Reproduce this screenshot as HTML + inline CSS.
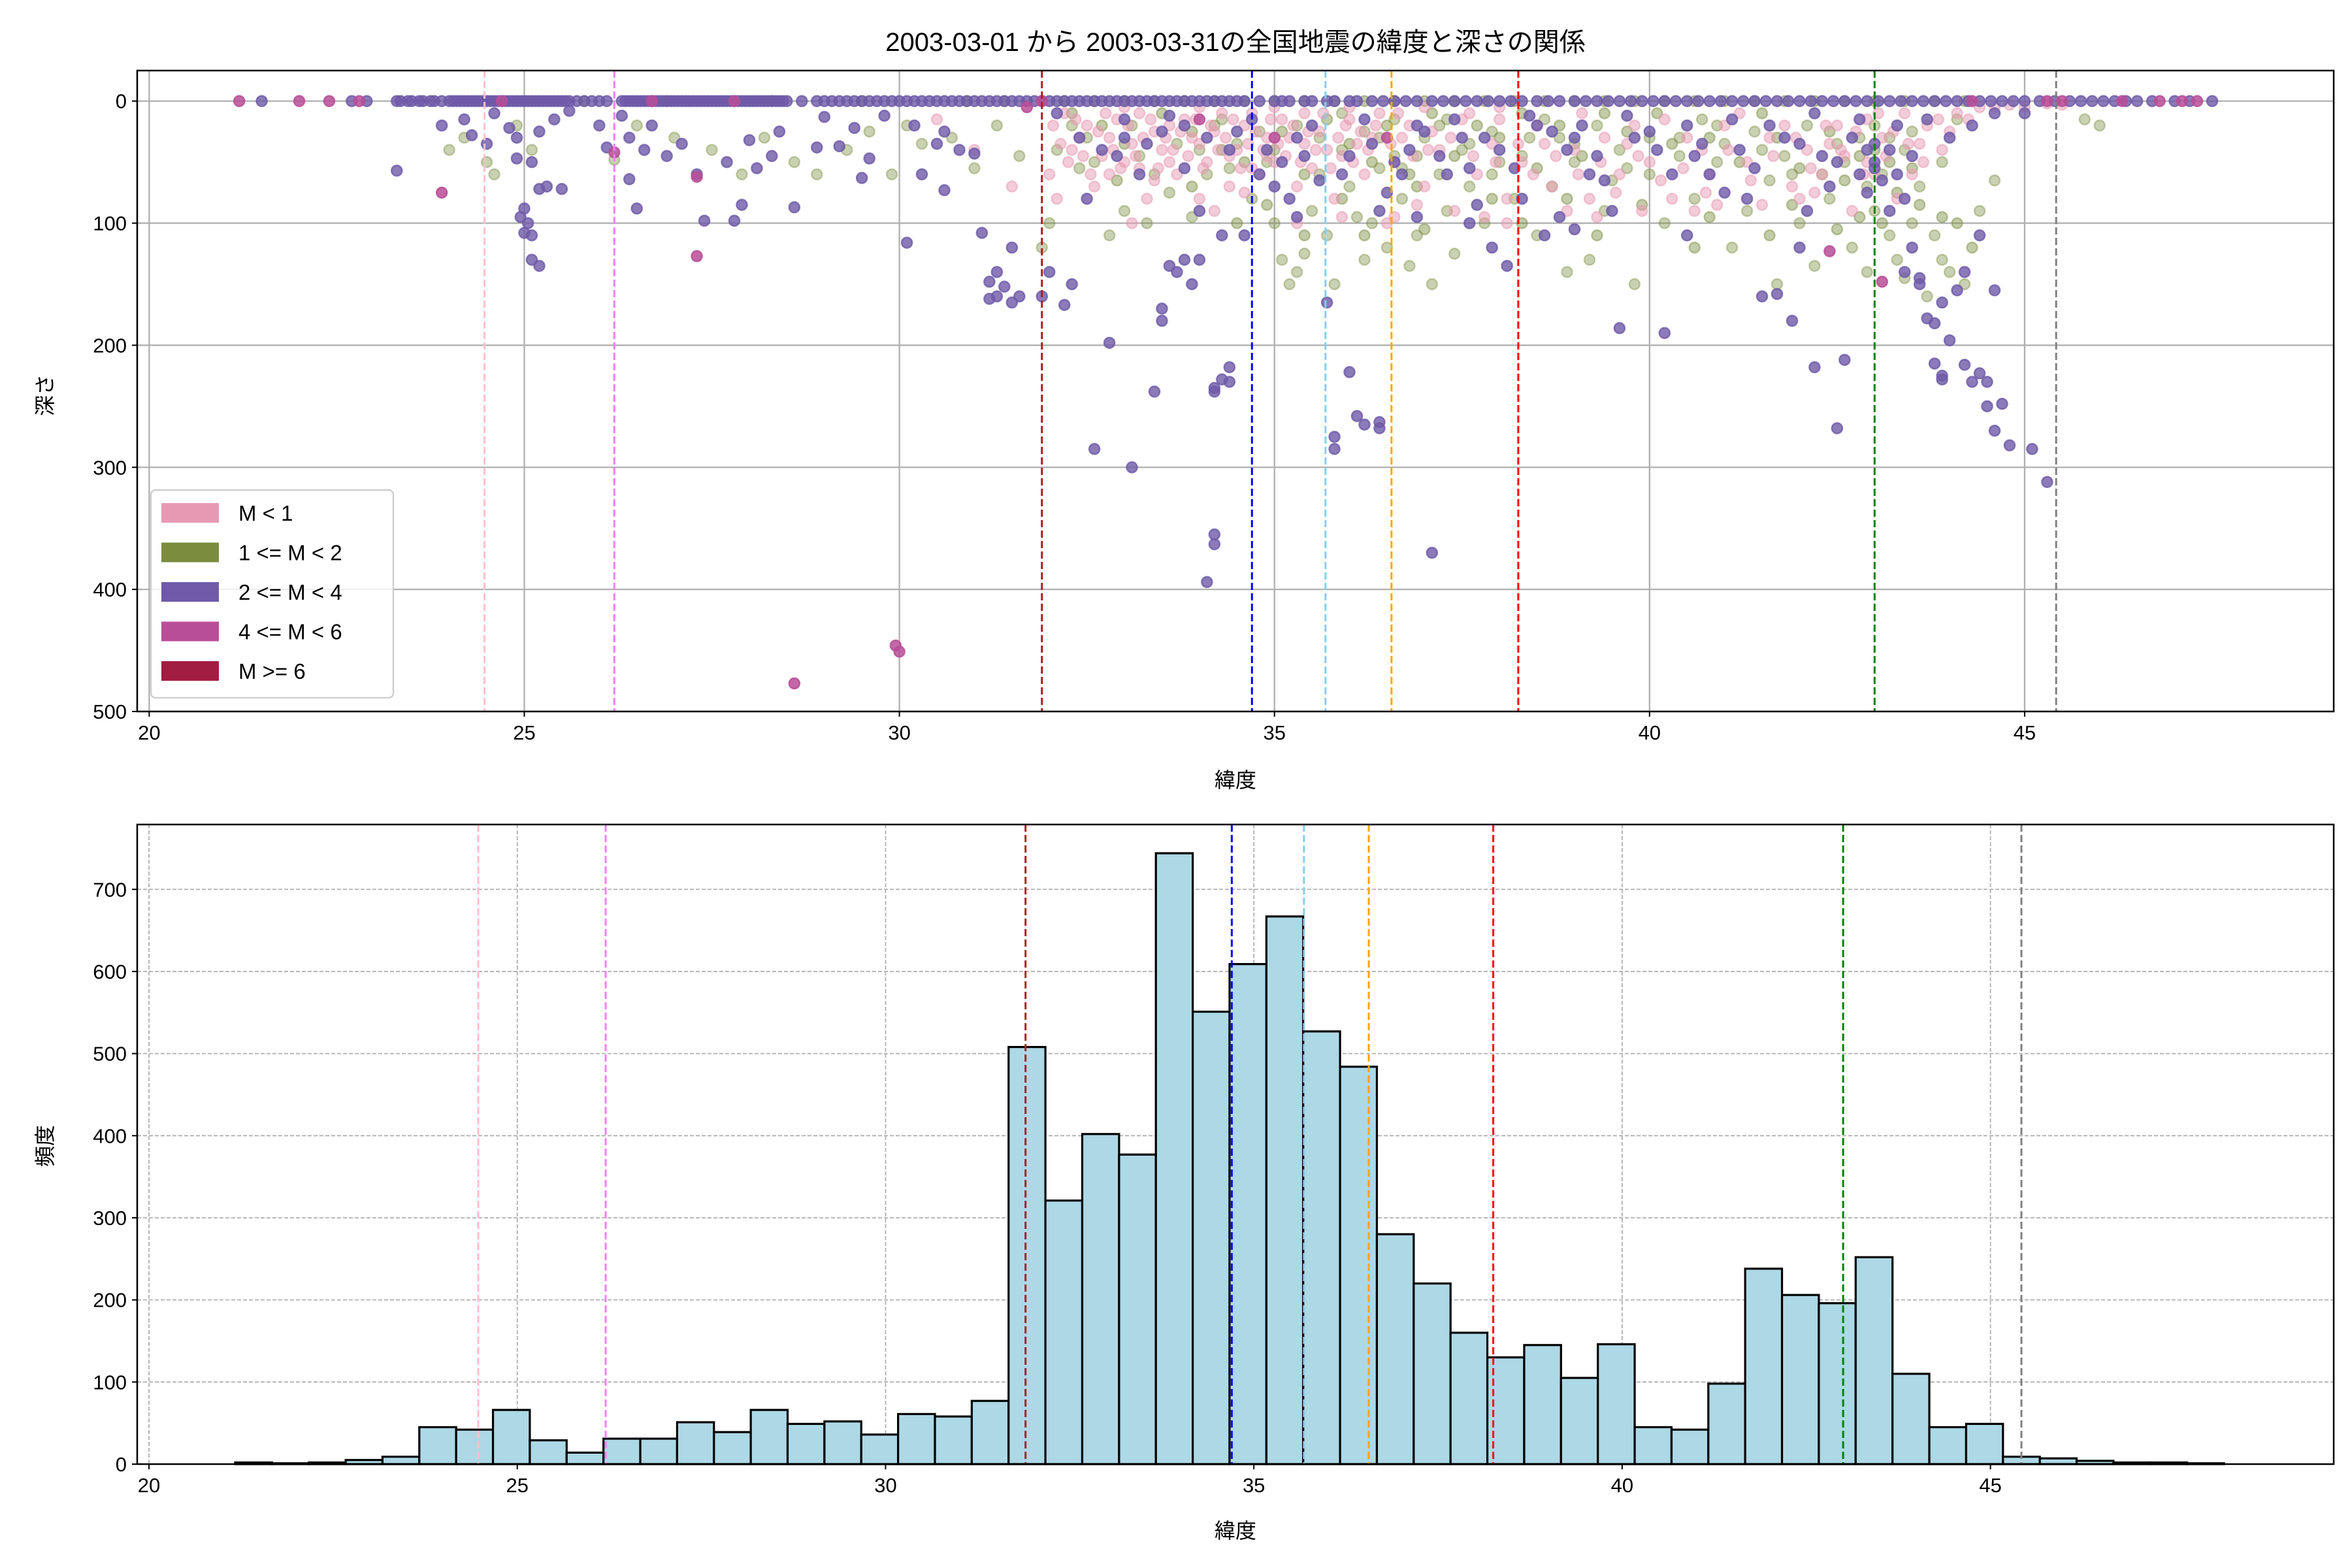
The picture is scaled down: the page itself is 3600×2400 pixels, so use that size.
<!DOCTYPE html>
<html><head><meta charset="utf-8">
<style>
html,body{margin:0;padding:0;background:#fff;}
svg{display:block;font-family:"Liberation Sans","Noto Sans CJK JP",sans-serif;}
</style></head>
<body>
<svg id="chart" width="3600" height="2400" viewBox="0 0 3600 2400" xmlns="http://www.w3.org/2000/svg">
<rect width="3600" height="2400" fill="#fff"/>
<text x="1891" y="78" font-size="40" text-anchor="middle">2003-03-01 から 2003-03-31の全国地震の緯度と深さの関係</text>
<g id="topAxes"></g>
<g id="bottomAxes"></g>
</svg>
<script>
// ===== data =====
const surfaceLatsPurple = [23.3,23.45,23.6,23.75,23.9,24.0,24.1,24.2,24.3,24.4,24.5,24.6,24.7,24.8,24.9,25.0,25.1,25.2,25.3,25.4,25.5,25.6,25.7,25.8,25.9,26.0,26.1,26.3,26.4,26.5,26.6,26.7,26.8,26.9,27.0,27.1,27.2,27.3,27.4,27.5,27.6,27.7,27.8,27.9,28.0,28.1,28.2,28.3,28.4,28.5,28.7,28.9,29.1,29.3,29.5,29.6,29.8,30.0,30.2,30.4,30.6,30.8,31.0,31.2,31.4,31.6,31.8,32.0,32.2,32.4,32.6,32.8,33.0,33.2,33.4,33.6,33.8,34.0,34.2,34.4,34.6,35.0,35.2,35.5,35.8,36.1,36.3,36.6,36.9,37.1,37.4,37.7,38.0,38.3,38.5,38.8,39.0,39.3,39.6,39.9,40.2,40.5,40.8,41.1,41.4,41.7,42.0,42.3,42.6,42.9,43.2,43.5,43.8,44.1,44.4,44.7,45.0,45.2,45.6,45.9,46.2,46.5,47.5,23.35,23.5,23.65,23.8,24.05,24.15,24.25,24.35,24.45,24.55,24.65,24.75,24.85,24.95,25.05,25.15,25.25,25.35,25.45,25.55,26.35,26.45,26.55,26.65,26.75,26.85,26.95,27.05,27.15,27.25,27.35,27.45,27.55,27.65,27.75,27.85,27.95,28.05,28.15,28.25,28.35,28.45,29.0,29.2,29.4,29.7,29.9,30.1,30.3,30.5,30.7,30.9,31.1,31.3,31.5,31.7,31.9,32.1,32.3,32.5,32.7,32.9,33.1,33.3,33.5,33.7,33.9,34.1,34.3,34.5,34.8,35.1,35.4,35.7,36.0,36.45,36.75,37.25,37.55,37.85,38.15,38.65,39.15,39.45,39.75,40.05,40.35,40.65,40.95,41.25,41.55,41.85,42.15,42.45,42.75,43.05,43.35,43.65,43.95,44.25,44.55,44.85,45.4,45.75,46.05,46.35,46.7,47.0,47.2];
const purplePts = [[23.3,57],[23.9,20],[24.2,15],[24.3,28],[24.5,35],[24.6,10],[24.8,22],[24.9,47],[25.0,88],[24.95,95],[25.0,108],[25.1,110],[25.1,130],[25.2,135],[25.05,100],[25.3,70],[25.2,72],[25.5,72],[24.9,30],[25.1,50],[25.2,25],[25.4,15],[25.6,8],[26.0,20],[26.1,38],[26.3,12],[26.4,30],[26.4,64],[26.5,88],[26.6,40],[26.7,20],[26.9,45],[27.1,35],[27.3,60],[27.4,98],[27.7,50],[27.8,98],[27.9,85],[28.0,32],[28.1,55],[28.3,45],[28.4,25],[28.6,87],[28.9,38],[29.0,13],[29.2,37],[29.4,22],[29.5,63],[29.6,47],[29.8,12],[30.2,20],[30.5,35],[30.6,25],[30.3,60],[30.6,73],[30.8,40],[31.0,43],[30.1,116],[31.1,108],[31.2,148],[31.3,160],[31.4,152],[31.5,165],[31.6,160],[31.2,162],[31.3,140],[31.5,120],[31.9,160],[32.2,167],[32.3,150],[32.0,140],[32.4,30],[32.5,80],[32.7,40],[33.0,30],[33.2,60],[32.6,285],[32.8,198],[33.1,300],[33.4,238],[33.5,170],[33.5,180],[33.6,135],[33.7,140],[33.8,130],[33.9,150],[34.0,130],[34.3,110],[34.0,90],[33.8,55],[34.2,235],[34.2,238],[34.3,228],[34.4,218],[34.1,394],[34.2,355],[34.2,363],[34.4,230],[34.6,110],[34.4,40],[34.8,60],[35.0,70],[35.2,80],[35.4,45],[35.6,65],[35.7,165],[35.8,285],[35.8,275],[36.0,222],[36.1,258],[36.2,265],[36.4,268],[36.4,263],[36.5,75],[36.7,60],[36.9,95],[37.1,370],[37.3,60],[37.6,55],[37.7,85],[37.9,120],[38.1,135],[38.3,80],[38.6,110],[38.8,95],[39.0,105],[39.2,60],[39.5,90],[39.6,186],[40.2,190],[40.5,110],[40.8,60],[41.0,75],[41.3,80],[41.5,160],[41.7,158],[41.9,180],[42.0,120],[42.2,218],[42.6,212],[42.5,268],[42.1,90],[42.4,70],[42.8,60],[43.0,50],[43.2,40],[43.3,60],[43.4,140],[43.6,145],[43.7,178],[43.8,182],[43.8,215],[43.9,228],[43.9,225],[44.0,196],[44.2,140],[44.2,216],[44.3,230],[44.4,223],[44.5,230],[44.5,250],[44.6,270],[44.7,248],[44.8,282],[44.6,155],[44.4,110],[44.1,155],[43.9,165],[43.6,150],[43.5,120],[45.1,285],[45.3,312],[43.0,55],[42.9,40],[42.7,30],[41.8,30],[40.5,20],[39.8,30],[39.3,45],[38.0,40],[37.5,30],[36.8,40],[36.0,45],[35.3,30],[34.5,25],[33.8,20],[33.0,15],[45.0,10],[36.3,35],[37.0,25],[38.5,20],[39.0,30],[40.0,25],[41.2,40],[42.3,45],[43.1,65],[33.5,25],[34.9,40]];
const purpleBandPts = [[32.1,10],[32.9,45],[33.3,35],[33.6,12],[34.1,30],[34.7,15],[35.1,50],[35.5,20],[35.9,60],[36.2,15],[36.6,50],[37.2,45],[37.4,15],[37.8,30],[38.2,55],[38.4,12],[38.9,40],[39.1,20],[39.4,65],[39.7,12],[40.1,40],[40.3,60],[40.7,35],[41.1,15],[41.4,55],[41.6,20],[42.0,35],[42.2,10],[42.5,50],[42.8,15],[43.0,35],[43.3,20],[43.5,45],[43.7,15],[44.0,30],[44.3,20],[44.6,10],[36.9,20],[38.7,25],[40.6,45],[42.9,75],[43.2,90],[43.4,80],[36.4,90],[35.3,95],[37.6,100]];
const greenPts = [[24.0,40],[24.2,30],[24.5,50],[24.6,60],[24.9,20],[25.1,40],[26.2,48],[26.5,20],[27.0,30],[27.5,40],[27.9,60],[28.2,30],[28.6,50],[28.9,60],[29.3,40],[29.6,25],[29.9,60],[30.1,20],[30.3,35],[30.7,30],[31.0,55],[31.3,20],[31.6,45],[31.9,120],[32.0,100],[32.3,20],[32.6,50],[32.8,110],[33.0,90],[33.3,100],[33.4,60],[33.6,75],[33.9,95],[34.0,40],[34.2,20],[34.4,55],[34.5,35],[34.7,80],[34.9,50],[35.0,100],[35.1,130],[35.2,150],[35.3,140],[35.4,125],[35.5,90],[35.6,60],[35.7,110],[35.8,150],[35.9,40],[36.0,70],[36.1,95],[36.2,130],[36.3,100],[36.4,55],[36.5,120],[36.6,45],[36.7,80],[36.8,135],[36.9,110],[37.0,30],[37.1,150],[37.2,60],[37.3,90],[37.4,125],[37.5,40],[37.6,70],[37.8,100],[38.0,50],[38.2,80],[38.4,30],[38.5,110],[38.7,70],[38.9,140],[39.0,50],[39.2,130],[39.4,90],[39.6,40],[39.8,150],[40.0,60],[40.2,100],[40.4,30],[40.6,80],[40.9,50],[41.1,120],[41.3,90],[41.5,40],[41.7,150],[41.9,60],[42.0,100],[42.2,135],[42.4,80],[42.6,50],[42.7,120],[42.9,140],[43.0,90],[43.1,60],[43.2,110],[43.3,130],[43.4,145],[43.5,100],[43.6,70],[43.7,160],[43.8,110],[43.9,130],[44.0,140],[44.2,150],[44.4,90],[44.6,65],[45.8,15],[46.0,20],[32.1,40],[32.5,30],[33.1,20],[33.7,35],[34.3,15],[34.8,25],[35.3,20],[35.9,10],[36.6,15],[37.2,20],[37.9,25],[38.6,15],[39.3,20],[40.0,30],[40.7,15],[41.4,25],[42.1,20],[42.8,30],[43.5,25],[44.1,15],[32.4,55],[33.2,45],[34.1,60],[35.0,40],[35.6,30],[36.2,25],[36.9,45],[37.6,35],[38.3,45],[39.0,35],[39.7,55],[40.4,45],[41.0,35],[41.8,45],[42.5,35],[43.2,30],[43.9,50],[36.4,30],[37.3,15],[38.8,30],[40.9,20],[42.3,60],[43.4,40],[43.0,20],[36.7,55],[37.9,60],[39.5,65],[41.6,65],[42.9,70]];
const greenBandPts = [[32.2,0],[32.6,0],[33.0,0],[33.4,0],[33.8,0],[34.2,0],[34.6,0],[35.0,0],[35.4,0],[35.8,0],[36.2,0],[36.6,0],[37.0,0],[37.4,0],[37.8,0],[38.2,0],[38.6,0],[39.0,0],[39.4,0],[39.8,0],[40.2,0],[40.6,0],[41.0,0],[41.4,0],[41.8,0],[42.2,0],[42.6,0],[43.0,0],[43.4,0],[43.8,0],[44.2,0],[25.8,0],[26.9,0],[28.3,0],[29.5,0],[30.9,0],[31.4,0],[32.3,10],[32.7,20],[33.0,35],[33.5,10],[33.9,25],[34.3,40],[34.6,50],[35.1,25],[35.4,60],[35.7,15],[36.0,35],[36.3,50],[36.5,20],[36.8,60],[37.1,10],[37.4,45],[37.7,20],[38.0,30],[38.3,10],[38.5,55],[38.8,20],[39.1,45],[39.4,10],[39.7,25],[40.1,10],[40.3,35],[40.8,30],[41.2,50],[41.5,10],[41.7,30],[42.0,55],[42.4,25],[42.6,65],[42.8,45],[43.0,40],[43.2,50],[43.3,75],[43.5,55],[43.6,85],[43.1,100],[42.8,95],[42.5,105],[41.9,85],[40.8,95],[39.9,85],[38.9,80],[37.9,80],[36.9,70],[35.9,80],[34.9,85],[33.9,70],[32.9,65],[36.2,110],[37.0,105],[35.4,110],[34.5,100],[38.3,100],[39.3,110],[40.6,120],[41.6,110],[43.9,95],[44.3,120],[44.1,100]];
const pinkPts = [[32.0,60],[32.3,40],[32.5,20],[32.6,70],[32.8,30],[33.0,50],[33.1,100],[33.2,10],[33.3,80],[33.5,40],[33.6,20],[33.7,60],[33.9,30],[34.0,80],[34.1,50],[34.3,10],[34.4,70],[34.5,40],[34.6,20],[34.8,60],[34.9,30],[35.0,50],[35.1,15],[35.3,70],[35.4,35],[35.5,55],[35.6,25],[35.8,80],[35.9,45],[36.0,15],[36.2,60],[36.3,30],[36.5,100],[36.6,50],[36.8,20],[37.0,70],[37.2,40],[37.4,90],[37.5,15],[37.7,60],[37.9,35],[38.1,80],[38.3,50],[38.5,20],[38.7,70],[38.9,90],[39.0,40],[39.2,80],[39.4,30],[39.6,60],[39.8,20],[40.0,50],[40.3,80],[40.5,30],[40.8,60],[41.0,20],[41.3,50],[41.6,30],[41.9,70],[42.1,40],[42.3,60],[42.5,20],[42.7,90],[42.9,50],[43.1,30],[43.3,80],[43.5,60],[43.7,20],[43.9,40],[44.1,10],[44.4,5],[44.8,3],[45.3,2],[31.5,70],[31.0,40],[30.5,15],[32.2,10],[32.4,30],[32.7,45],[32.9,15],[33.1,35],[33.4,25],[33.6,50],[33.8,15],[34.0,35],[34.2,25],[34.4,45],[34.7,10],[34.9,45],[35.2,30],[35.4,10],[35.7,40],[36.1,35],[36.4,10],[36.7,30],[37.1,25],[37.6,10],[38.0,15],[38.6,35],[39.1,10],[39.7,35],[40.2,15],[40.7,40],[41.2,10],[41.8,20],[42.4,35],[42.9,15],[43.4,10],[42.6,45],[43.0,60],[42.2,75],[41.5,85],[40.6,90],[39.3,95],[37.8,95],[36.9,85],[35.9,95],[34.6,75],[33.4,65],[32.1,80],[33.0,5],[34.0,5],[35.0,5],[36.0,5],[37.0,5],[38.0,5],[44.0,25],[43.6,35],[33.2,55],[34.7,55],[32.8,60]];
const pinkBandPts = [[32.05,20],[32.15,35],[32.25,50],[32.35,15],[32.45,45],[32.55,60],[32.65,25],[32.75,10],[32.85,40],[32.95,55],[33.05,20],[33.15,45],[33.25,30],[33.35,15],[33.45,55],[33.55,30],[33.65,40],[33.75,25],[33.85,45],[33.95,15],[34.05,55],[34.15,20],[34.25,40],[34.35,30],[34.45,15],[34.55,55],[34.65,35],[34.75,25],[34.85,40],[34.95,15],[35.05,35],[35.15,45],[35.25,20],[35.35,50],[35.45,25],[35.55,40],[35.65,10],[35.75,55],[35.85,30],[35.95,20],[36.05,50],[36.15,25],[36.25,40],[36.35,20],[36.55,35],[36.65,10],[36.85,45],[37.05,40],[37.35,30],[37.65,45],[37.95,50],[38.25,35],[38.45,60],[38.75,45],[39.05,60],[39.35,50],[39.55,75],[39.85,45],[40.15,65],[40.45,55],[40.75,75],[41.05,40],[41.35,65],[41.65,45],[41.95,30],[42.15,55],[42.35,20],[42.55,40],[42.75,25],[42.85,60],[43.05,10],[43.15,45],[43.25,25],[43.45,35],[43.65,50],[43.85,15],[44.25,15],[44.6,5],[45.0,5],[45.5,3],[39.9,90],[38.1,100],[36.6,95],[35.3,100],[34.2,90],[42.0,80],[40.9,85]];
const magentaPts = [[21.2,0],[22.0,0],[22.4,0],[22.8,0],[23.9,75],[24.7,0],[26.2,42],[26.7,0],[27.3,62],[27.3,127],[27.8,0],[28.6,477],[29.95,446],[30.0,451],[31.9,0],[34.0,15],[35.0,30],[42.4,123],[43.1,148],[44.3,0],[45.3,0],[45.5,0],[46.3,0],[46.8,0],[47.1,0],[47.3,0],[31.7,5],[36.5,30]];
const extraSurface = [21.5,22.7,22.9];
const histEdgeStart = 21.17;
const histBinWidth = 0.5;
const histCounts = [2,1,2,5,9,45,42,66,29,14,31,31,51,39,66,49,52,36,61,58,77,508,321,402,377,744,551,609,667,527,484,280,220,160,130,145,105,146,45,42,98,238,206,196,252,110,45,49,9,7,4,2,2,1];
const vlineLats = [24.47,26.2,31.9,34.7,35.68,36.56,38.25,43.0,45.42];
const vlineColors = ["pink","violet","#b21a1a","blue","skyblue","orange","red","green","gray"];
const depthTicks = [0,100,200,300,400,500];
const latTicks = [20,25,30,35,40,45];
const freqTicks = [0,100,200,300,400,500,600,700];
const legendLabels = ["M < 1","1 <= M < 2","2 <= M < 4","4 <= M < 6","M >= 6"];
const legendColors = ["#e799b4","#7b8c3e","#6e5aa8","#b84e98","#a21d42"];

// ===== helpers =====
const NS="http://www.w3.org/2000/svg";
function mk(parent,tag,attrs,text){const e=document.createElementNS(NS,tag);for(const k in attrs)e.setAttribute(k,attrs[k]);if(text!==undefined)e.textContent=text;parent.appendChild(e);return e;}
const L=210,R=3572;
const T1=108,B1=1089, tx0=19.84, tx1=49.12, ty0=-25, ty1=500;
const sx1=v=>L+(v-tx0)/(tx1-tx0)*(R-L);
const sy1=v=>T1+(v-ty0)/(ty1-ty0)*(B1-T1);
const T2=1262,B2=2241, bx0=19.84, bx1=49.66, by1=779;
const sx2=v=>L+(v-bx0)/(bx1-bx0)*(R-L);
const sy2=v=>B2-v/by1*(B2-T2);

const topG=document.getElementById('topAxes');
const botG=document.getElementById('bottomAxes');

latTicks.forEach(t=>{const g=mk(topG,'line',{x1:sx1(t),x2:sx1(t),y1:T1,y2:B1,stroke:'#b0b0b0','stroke-width':2.3});

});
depthTicks.forEach(t=>{const g=mk(topG,'line',{x1:L,x2:R,y1:sy1(t),y2:sy1(t),stroke:'#b0b0b0','stroke-width':2.3});

});

function dot(lat,d,color,op,name){const c=mk(topG,'circle',{cx:sx1(lat),cy:sy1(d),r:8,fill:color,'fill-opacity':op,stroke:color,'stroke-opacity':op,'stroke-width':2.5});

}
greenPts.forEach(p=>dot(p[0],p[1],legendColors[1],0.4,'point-m1-2'));
greenBandPts.forEach(p=>dot(p[0],p[1],legendColors[1],0.45,'point-m1-2'));
pinkPts.forEach(p=>dot(p[0],p[1],legendColors[0],0.5,'point-m-lt-1'));
pinkBandPts.forEach(p=>dot(p[0],p[1],legendColors[0],0.5,'point-m-lt-1'));
surfaceLatsPurple.forEach(v=>dot(v,0,legendColors[2],0.8,'point-m2-4'));
extraSurface.forEach(v=>dot(v,0,legendColors[2],0.8,'point-m2-4'));
purplePts.forEach(p=>dot(p[0],p[1],legendColors[2],0.8,'point-m2-4'));
purpleBandPts.forEach(p=>dot(p[0],p[1],legendColors[2],0.8,'point-m2-4'));
magentaPts.forEach(p=>dot(p[0],p[1],legendColors[3],0.85,'point-m4-6'));

vlineLats.forEach((v,i)=>{const l=mk(topG,'line',{x1:sx1(v),x2:sx1(v),y1:T1,y2:B1,stroke:vlineColors[i],'stroke-width':3,'stroke-dasharray':'11,5'});

});

const f1=mk(topG,'rect',{x:L,y:T1,width:R-L,height:B1-T1,fill:'none',stroke:'#000','stroke-width':2.5});


latTicks.forEach(t=>{mk(topG,'line',{x1:sx1(t),x2:sx1(t),y1:B1,y2:B1+8,stroke:'#000','stroke-width':2});
const tl=mk(topG,'text',{x:sx1(t),y:B1+43,'font-size':31,'text-anchor':'middle'},String(t));

});
depthTicks.forEach(t=>{mk(topG,'line',{x1:L-8,x2:L,y1:sy1(t),y2:sy1(t),stroke:'#000','stroke-width':2});
const tl=mk(topG,'text',{x:L-16,y:sy1(t)+11,'font-size':31,'text-anchor':'end'},String(t));

});
const xl1=mk(topG,'text',{x:1891,y:1205,'font-size':32,'text-anchor':'middle'},'緯度');


const yl1=mk(topG,'text',{x:80,y:605,'font-size':32,'text-anchor':'middle',transform:'rotate(-90 80 605)'},'深さ');



const lg=mk(topG,'g',{});


mk(lg,'rect',{x:231,y:750,width:371,height:318,rx:7,fill:'#fff','fill-opacity':0.8,stroke:'#ccc','stroke-width':2.3});
legendLabels.forEach((s,i)=>{const y=785+i*60.5;
const e=mk(lg,'g',{});


mk(e,'rect',{x:247,y:y-15,width:88,height:30,fill:legendColors[i]});
mk(e,'text',{x:365,y:y+12,'font-size':33},s);});

latTicks.forEach(t=>{const g=mk(botG,'line',{x1:sx2(t),x2:sx2(t),y1:T2,y2:B2,stroke:'#b0b0b0','stroke-width':1.8,'stroke-dasharray':'6,3'});

});
freqTicks.forEach(t=>{const g=mk(botG,'line',{x1:L,x2:R,y1:sy2(t),y2:sy2(t),stroke:'#b0b0b0','stroke-width':1.8,'stroke-dasharray':'6,3'});

});
histCounts.forEach((c,i)=>{const a=histEdgeStart+i*histBinWidth,b=a+histBinWidth;
const r=mk(botG,'rect',{x:sx2(a),y:sy2(c),width:sx2(b)-sx2(a),height:sy2(0)-sy2(c),fill:'#add8e6',stroke:'#000','stroke-width':3.2});

});
vlineLats.forEach((v,i)=>{const l=mk(botG,'line',{x1:sx2(v),x2:sx2(v),y1:T2,y2:B2,stroke:vlineColors[i],'stroke-width':3,'stroke-dasharray':'11,5'});

});
const f2=mk(botG,'rect',{x:L,y:T2,width:R-L,height:B2-T2,fill:'none',stroke:'#000','stroke-width':2.5});


latTicks.forEach(t=>{mk(botG,'line',{x1:sx2(t),x2:sx2(t),y1:B2,y2:B2+8,stroke:'#000','stroke-width':2});
const tl=mk(botG,'text',{x:sx2(t),y:B2+43,'font-size':31,'text-anchor':'middle'},String(t));

});
freqTicks.forEach(t=>{mk(botG,'line',{x1:L-8,x2:L,y1:sy2(t),y2:sy2(t),stroke:'#000','stroke-width':2});
const tl=mk(botG,'text',{x:L-16,y:sy2(t)+11,'font-size':31,'text-anchor':'end'},String(t));

});
const xl2=mk(botG,'text',{x:1891,y:2354,'font-size':32,'text-anchor':'middle'},'緯度');


const yl2=mk(botG,'text',{x:80,y:1754,'font-size':32,'text-anchor':'middle',transform:'rotate(-90 80 1754)'},'頻度');


</script>
</body></html>
